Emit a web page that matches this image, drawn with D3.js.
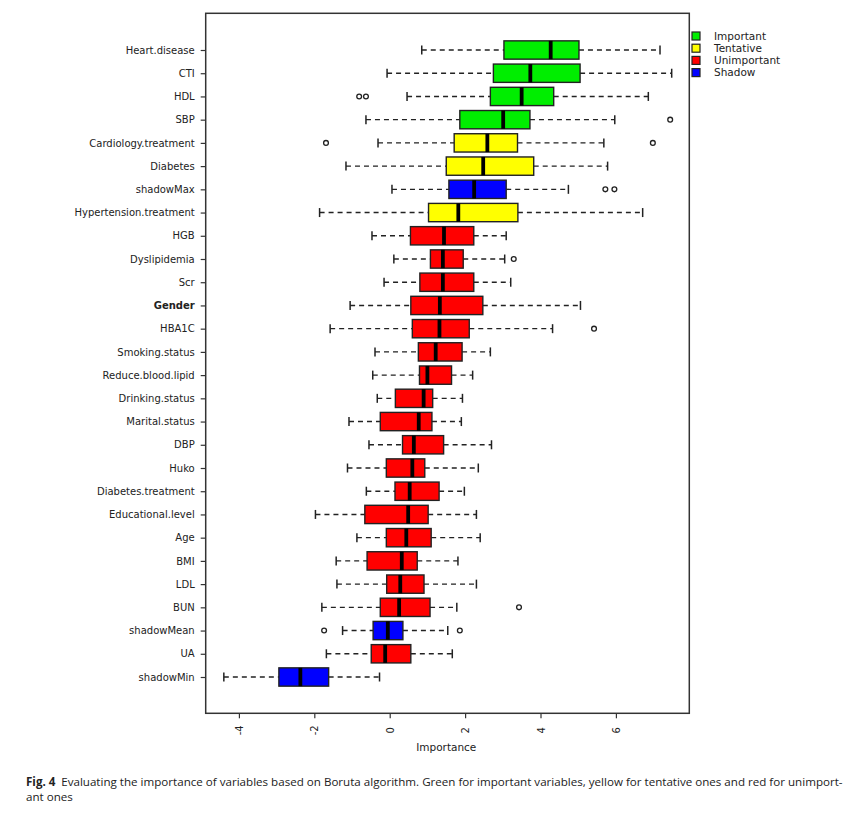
<!DOCTYPE html>
<html><head><meta charset="utf-8">
<script src="https://cdn.jsdelivr.net/npm/d3@7"></script>
<style>
body{margin:0;background:#fff;}
svg{display:block;}
</style></head><body>
<svg id="chart" width="859" height="822"></svg>
<script>
const variables = ["Heart.disease","CTI","HDL","SBP","Cardiology.treatment","Diabetes","shadowMax","Hypertension.treatment","HGB","Dyslipidemia","Scr","Gender","HBA1C","Smoking.status","Reduce.blood.lipid","Drinking.status","Marital.status","DBP","Huko","Diabetes.treatment","Educational.level","Age","BMI","LDL","BUN","shadowMean","UA","shadowMin"];
const decisions = ["Important","Important","Important","Important","Tentative","Tentative","Shadow","Tentative","Unimportant","Unimportant","Unimportant","Unimportant","Unimportant","Unimportant","Unimportant","Unimportant","Unimportant","Unimportant","Unimportant","Unimportant","Unimportant","Unimportant","Unimportant","Unimportant","Unimportant","Shadow","Unimportant","Shadow"];
const whiskerLow = [0.85,-0.07,0.46,-0.63,-0.31,-1.16,0.06,-1.86,-0.47,0.11,-0.15,-1.05,-1.58,-0.39,-0.45,-0.33,-1.08,-0.55,-1.12,-0.62,-1.97,-0.87,-1.42,-1.40,-1.80,-1.25,-1.68,-4.40];
const q1 = [3.03,2.75,2.67,1.86,1.71,1.50,1.57,1.03,0.55,1.08,0.80,0.56,0.60,0.76,0.79,0.15,-0.25,0.34,-0.09,0.14,-0.66,-0.09,-0.60,-0.08,-0.25,-0.44,-0.49,-2.94];
const medians = [4.27,3.73,3.50,3.01,2.59,2.48,2.24,1.82,1.44,1.41,1.41,1.33,1.32,1.22,1.00,0.90,0.77,0.64,0.60,0.53,0.49,0.44,0.32,0.28,0.25,-0.05,-0.12,-2.37];
const q3 = [5.02,5.05,4.35,3.72,3.39,3.82,3.09,3.40,2.23,1.95,2.23,2.47,2.11,1.92,1.64,1.14,1.12,1.43,0.93,1.31,1.02,1.10,0.73,0.91,1.07,0.35,0.56,-1.62];
const whiskerHigh = [7.17,7.48,6.86,5.97,5.68,5.78,4.74,6.71,3.09,3.05,3.21,5.06,4.32,2.67,2.20,1.93,1.90,2.70,2.35,1.98,2.30,2.40,1.81,2.30,1.78,1.54,1.66,-0.27];
const outliers = [[],[],[-0.81,-0.63],[7.44],[-1.69,6.98],[],[5.72,5.96],[],[],[3.29],[],[],[5.42],[],[],[],[],[],[],[],[],[],[],[],[3.43],[-1.74,1.86],[],[]];
const xTicks = [-4,-2,0,2,4,6];
const legendLabels = ["Important","Tentative","Unimportant","Shadow"];
const legendColors = ["#00ee00","#ffff00","#ff0000","#0000ff"];

const svg = d3.select("#chart");
const L = 205.7, R = 689.3, T = 13.3, B = 713.3;
const x = d3.scaleLinear().domain([-4.881, 7.947]).range([L, R]);
const y = d3.scalePoint().domain(variables).range([50, 677]);
const color = d3.scaleOrdinal().domain(legendLabels).range(legendColors);
const bh = 18.3;
const font = "'DejaVu Sans', sans-serif";

const data = variables.map((v,i)=>({name:v, dec:decisions[i], lo:whiskerLow[i], q1:q1[i], med:medians[i], q3:q3[i], hi:whiskerHigh[i], out:outliers[i]}));

const g = svg.append("g");
const rows = g.selectAll("g.row").data(data).join("g").attr("class","row");
rows.append("line").attr("x1",d=>x(d.lo)).attr("x2",d=>x(d.q1)).attr("y1",d=>y(d.name)).attr("y2",d=>y(d.name))
  .attr("stroke","#222").attr("stroke-width",1.4).attr("stroke-dasharray","5,4");
rows.append("line").attr("x1",d=>x(d.q3)).attr("x2",d=>x(d.hi)).attr("y1",d=>y(d.name)).attr("y2",d=>y(d.name))
  .attr("stroke","#222").attr("stroke-width",1.4).attr("stroke-dasharray","5,4");
rows.append("line").attr("x1",d=>x(d.lo)).attr("x2",d=>x(d.lo)).attr("y1",d=>y(d.name)-4.5).attr("y2",d=>y(d.name)+4.5)
  .attr("stroke","#222").attr("stroke-width",1.5);
rows.append("line").attr("x1",d=>x(d.hi)).attr("x2",d=>x(d.hi)).attr("y1",d=>y(d.name)-4.5).attr("y2",d=>y(d.name)+4.5)
  .attr("stroke","#222").attr("stroke-width",1.5);
rows.append("rect").attr("x",d=>x(d.q1)).attr("width",d=>x(d.q3)-x(d.q1)).attr("y",d=>y(d.name)-bh/2).attr("height",bh)
  .attr("fill",d=>color(d.dec)).attr("stroke","#222").attr("stroke-width",1.4);
rows.append("line").attr("x1",d=>x(d.med)).attr("x2",d=>x(d.med)).attr("y1",d=>y(d.name)-bh/2).attr("y2",d=>y(d.name)+bh/2)
  .attr("stroke","#000").attr("stroke-width",3.8);
rows.each(function(d){
  d3.select(this).selectAll("circle").data(d.out).join("circle")
    .attr("cx",o=>x(o)).attr("cy",y(d.name)).attr("r",2.4)
    .attr("fill","none").attr("stroke","#222").attr("stroke-width",1.3);
});

svg.append("rect").attr("x",L).attr("y",T).attr("width",R-L).attr("height",B-T)
  .attr("fill","none").attr("stroke","#333").attr("stroke-width",1.5);

const yAxis = d3.axisLeft(y).tickSize(5).tickPadding(6);
const ya = svg.append("g").attr("transform",`translate(${L},0)`).call(yAxis);
ya.select(".domain").remove();
ya.selectAll("line").attr("stroke","#333").attr("stroke-width",1.2);
ya.selectAll("text").attr("font-family",font).attr("font-size",10).attr("fill","#222")
  .attr("font-weight",d=>d==="Gender"?"bold":"normal");

const xAxis = d3.axisBottom(x).tickValues(xTicks).tickSize(5).tickFormat(d3.format("d"));
const xa = svg.append("g").attr("transform",`translate(0,${B})`).call(xAxis);
xa.select(".domain").remove();
xa.selectAll("line").attr("stroke","#333").attr("stroke-width",1.2);
xa.selectAll("text").attr("font-family",font).attr("font-size",10).attr("fill","#222")
  .attr("transform","rotate(-90)").attr("text-anchor","middle").attr("x",-17).attr("y",0).attr("dy","0.35em")
  .text(d=>d<0?"-"+Math.abs(d):d);

svg.append("text").attr("x",x(1.5)).attr("y",751).attr("text-anchor","middle")
  .attr("font-family",font).attr("font-size",10.5).attr("fill","#222").text("Importance");

const lg = svg.append("g");
legendLabels.forEach((lab,i)=>{
  const yy = 36 + i*12.2;
  lg.append("rect").attr("x",692).attr("y",yy-4).attr("width",8).attr("height",8)
    .attr("fill",legendColors[i]).attr("stroke","#222").attr("stroke-width",1.2);
  lg.append("text").attr("x",714).attr("y",yy).attr("dy","0.35em").attr("font-family",font)
    .attr("font-size",10.5).attr("fill","#222").text(lab);
});

const cap = svg.append("text").attr("font-family","'Open Sans',sans-serif").attr("font-size",11.6).attr("fill","#222");
const t1 = cap.append("tspan").attr("x",26).attr("y",786);
t1.append("tspan").attr("font-weight","bold").text("Fig. 4");
t1.append("tspan").text("\u2002Evaluating the importance of variables based on Boruta algorithm. Green for important variables, yellow for tentative ones and red for unimport-");
cap.append("tspan").attr("x",26).attr("y",801).text("ant ones");
</script>
</body></html>
